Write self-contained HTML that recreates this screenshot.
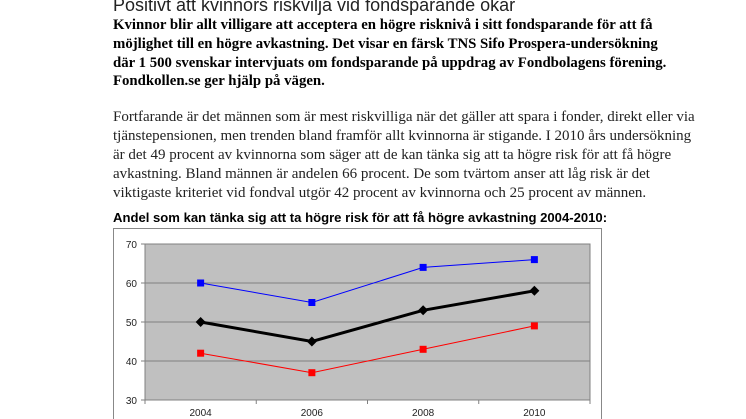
<!DOCTYPE html>
<html><head><meta charset="utf-8"><style>
body{margin:0;width:746px;height:419px;overflow:hidden;background:#fff;position:relative;font-family:"Liberation Serif",serif;}
.t{position:absolute;left:113px;white-space:nowrap;color:#000;}
#h{top:-5px;font-family:"Liberation Sans",sans-serif;font-size:18px;color:#222;}
.b{font-weight:bold;font-size:14.8px;line-height:18.8px;}
.p{font-size:15px;line-height:19px;color:#222;}
#ct{top:210px;font-family:"Liberation Sans",sans-serif;font-weight:bold;font-size:13.1px;}
</style></head><body>
<div class="t" id="h">Positivt att kvinnors riskvilja vid fondsparande ökar</div>
<div class="t b" style="top:16px">Kvinnor blir allt villigare att acceptera en högre risknivå i sitt fondsparande för att få<br>möjlighet till en högre avkastning. Det visar en färsk TNS Sifo Prospera-undersökning<br>där 1 500 svenskar intervjuats om fondsparande på uppdrag av Fondbolagens förening.<br>Fondkollen.se ger hjälp på vägen.</div>
<div class="t p" style="top:108px">Fortfarande är det männen som är mest riskvilliga när det gäller att spara i fonder, direkt eller via<br>tjänstepensionen, men trenden bland framför allt kvinnorna är stigande. I 2010 års undersökning<br>är det 49 procent av kvinnorna som säger att de kan tänka sig att ta högre risk för att få högre<br>avkastning. Bland männen är andelen 66 procent. De som tvärtom anser att låg risk är det<br>viktigaste kriteriet vid fondval utgör 42 procent av kvinnorna och 25 procent av männen.</div>
<div class="t" id="ct">Andel som kan tänka sig att ta högre risk för att få högre avkastning 2004-2010:</div>
<svg id="c" width="746" height="419" style="position:absolute;left:0;top:0"></svg>
<script>
const categories=["2004","2006","2008","2010"];
const men=[60,55,64,66];
const total=[50,45,53,58];
const women=[42,37,43,49];
const yTicks=[30,40,50,60,70];
const NS="http://www.w3.org/2000/svg",svg=document.getElementById('c');
const L=145,R=590,T=244,B=400,bw=(R-L)/categories.length;
const x=i=>L+bw*(i+0.5), y=v=>B-(v-30)/(70-30)*(B-T);
function mk(t,a,p){const e=document.createElementNS(NS,t);for(const k in a)e.setAttribute(k,a[k]);(p||svg).appendChild(e);return e;}
const frame=mk('rect',{x:113.5,y:228.5,width:488,height:200,fill:'#fff',stroke:'#888'});


const plot=mk('rect',{x:L,y:T,width:R-L,height:B-T,fill:'#c0c0c0',stroke:'#808080'});


yTicks.forEach(v=>{
 const g=mk('line',{x1:L-4,x2:R,y1:y(v),y2:y(v),stroke:'#808080','stroke-width':1});
 
 
 const t=mk('text',{x:L-8,y:y(v)+4,'text-anchor':'end','font-family':'Liberation Sans, sans-serif','font-size':10,fill:'#222'});
 t.textContent=v;
 
 
});
for(let i=0;i<=categories.length;i++){mk('line',{x1:L+bw*i,x2:L+bw*i,y1:B,y2:B+4,stroke:'#808080'});}
categories.forEach((c,i)=>{
 const t=mk('text',{x:x(i),y:B+16,'text-anchor':'middle','font-family':'Liberation Sans, sans-serif','font-size':10,fill:'#222'});
 t.textContent=c;
 
 
});
function series(d,col,w,name,diamond){
 const pl=mk('polyline',{points:d.map((v,i)=>x(i)+','+y(v)).join(' '),fill:'none',stroke:col,'stroke-width':w});
 
 
 d.forEach((v,i)=>{
  let m;
  if(diamond)m=mk('polygon',{points:`${x(i)},${y(v)-5} ${x(i)+5},${y(v)} ${x(i)},${y(v)+5} ${x(i)-5},${y(v)}`,fill:col});
  else m=mk('rect',{x:x(i)-3.5,y:y(v)-3.5,width:7,height:7,fill:col});
  
  
 });
}
series(men,'#0000ff',1,'men',false);
series(women,'#ff0000',1,'women',false);
series(total,'#000',3,'total',true);
</script>
</body></html>
